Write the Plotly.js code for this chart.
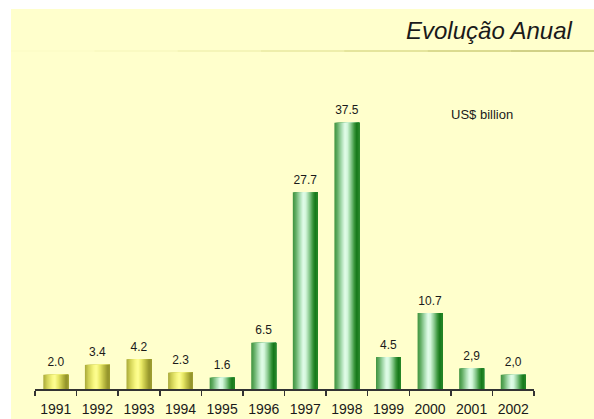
<!DOCTYPE html>
<html>
<head>
<meta charset="utf-8">
<script src="https://cdn.plot.ly/plotly-3.0.1.min.js"></script>
<style>html,body{margin:0;padding:0;background:#fff;}#chart{width:594px;height:419px;}</style>
</head>
<body>
<div id="chart"></div>
<script>
// ---- data ----
const years = ['1991','1992','1993','1994','1995','1996','1997','1998','1999','2000','2001','2002'];
const values = [2.0, 3.4, 4.2, 2.3, 1.6, 6.5, 27.7, 37.5, 4.5, 10.7, 2.9, 2.0];
const valueLabels = ['2.0','3.4','4.2','2.3','1.6','6.5','27.7','37.5','4.5','10.7','2,9','2,0'];
const barGroup = ['yellow','yellow','yellow','yellow','green','green','green','green','green','green','green','green'];
const chartTitle = 'Evolução Anual';
const unitLabel = 'US$ billion';

// ---- styling (shading profiles across a bar, left -> right) ----
const gradients = {
  green: [[0,'#3f923f'],[0.12,'#62ad64'],[0.28,'#a8dcb0'],[0.42,'#e2fdea'],[0.52,'#d2f6da'],[0.66,'#8ccb92'],[0.8,'#3a963c'],[0.9,'#16781a'],[1,'#2a8a2c']],
  yellow: [[0,'#a8a83a'],[0.15,'#d2d256'],[0.35,'#f6f680'],[0.46,'#ffff94'],[0.6,'#e8e866'],[0.8,'#b2b23c'],[0.92,'#92922a'],[1,'#a0a034']]
};
function hex2rgb(h){return [parseInt(h.substr(1,2),16),parseInt(h.substr(3,2),16),parseInt(h.substr(5,2),16)];}
function colorAt(stops,t){
  for(let i=0;i<stops.length-1;i++){
    const [t0,c0]=stops[i],[t1,c1]=stops[i+1];
    if(t>=t0&&t<=t1){
      const f=(t-t0)/(t1-t0),a=hex2rgb(c0),b=hex2rgb(c1);
      return 'rgb('+a.map((v,j)=>Math.round(v+(b[j]-v)*f)).join(',')+')';
    }
  }
  return stops[stops.length-1][1];
}

const BW = 0.6, N = 24;
const traces = [];
for(let k=0;k<N;k++){
  const start = -BW/2 + BW*k/N;
  const t = (k+0.5)/N;
  traces.push({
    type:'bar', x: years, y: values,
    offset: start, width: BW/2 - start,
    marker:{color: barGroup.map(g=>colorAt(gradients[g],t)), line:{width:0}},
    hoverinfo:'skip', showlegend:false
  });
}
traces.push({
  type:'scatter', mode:'markers+text', x: years, y: values,
  text: valueLabels, textposition:'top center', cliponaxis:false,
  marker:{size:7, color:'rgba(0,0,0,0)', line:{width:0}},
  textfont:{family:'Liberation Sans, Arial, sans-serif', size:12, color:'#1a1a1a'},
  hoverinfo:'skip', showlegend:false
});

// pixel helpers for decorations
const L=35, R=60, T=105, B=30, W=594-L-R, H=419-T-B;
const px = x => (x-L)/W;
const py = y => (419-B-y)/H;

const shapes = [{type:'rect', xref:'paper', yref:'paper', x0:px(11), x1:px(594), y0:py(419), y1:py(9), fillcolor:'#FFFFCC', line:{width:0}, layer:'below'}];
const lineCols = ['#fbfbc4','#f6f6b8','#ececa4','#dede8a','#cccc6c','#b8b852','#a4a440'];
const segW = (594-11)/lineCols.length;
lineCols.forEach((c,i)=>{
  shapes.push({type:'line', xref:'paper', yref:'paper', x0:px(11+i*segW), x1:px(11+(i+1)*segW), y0:py(51), y1:py(51), line:{color:c, width:1.2}, layer:'below'});
});

const layout = {
  width:594, height:419,
  margin:{l:L, r:R, t:T, b:B, pad:0},
  paper_bgcolor:'#ffffff', plot_bgcolor:'rgba(0,0,0,0)',
  barmode:'overlay',
  showlegend:false,
  xaxis:{type:'category', range:[-0.5,11.5], showline:true, linecolor:'#333', linewidth:1.5,
         ticks:'outside', tickson:'boundaries', ticklen:5, tickwidth:1.5, tickcolor:'#333',
         ticklabelstandoff:7,
         showgrid:false, zeroline:false, fixedrange:true,
         tickfont:{family:'Liberation Sans, Arial, sans-serif', size:14, color:'#1a1a1a'}},
  yaxis:{range:[0,40], visible:false, showgrid:false, zeroline:false, fixedrange:true},
  shapes: shapes,
  annotations:[
    {xref:'paper', yref:'paper', x:px(575), y:py(30), xanchor:'right', yanchor:'middle', showarrow:false,
     text:chartTitle, font:{family:'Liberation Sans, Arial, sans-serif', size:24, style:'italic', color:'#1a1a1a'}},
    {xref:'paper', yref:'paper', x:px(449), y:py(115), xanchor:'left', yanchor:'middle', showarrow:false,
     text:unitLabel, font:{family:'Liberation Sans, Arial, sans-serif', size:13, color:'#1a1a1a'}}
  ]
};
Plotly.newPlot('chart', traces, layout, {displayModeBar:false, staticPlot:true});
</script>
</body>
</html>
